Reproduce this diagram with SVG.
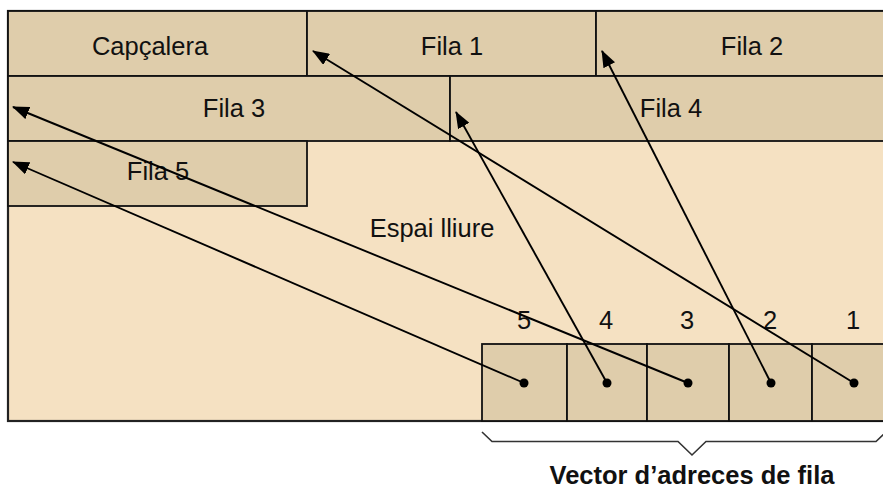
<svg xmlns="http://www.w3.org/2000/svg" width="883" height="490" viewBox="0 0 883 490">
<style>
.blk{fill:#DFCDAB;stroke:#111;stroke-width:1.8}
.t{font-family:"Liberation Sans",Arial,sans-serif;font-size:25.5px;fill:#111;text-anchor:middle}
.b{font-weight:bold}
.c{stroke:#000;stroke-width:1.9;fill:none}
</style>
<defs>
<marker id="ah" markerWidth="17" markerHeight="13" refX="16" refY="6.5" orient="auto" markerUnits="userSpaceOnUse">
<path d="M0,0 L17,6.5 L0,13 Z" fill="#000"/>
</marker>
</defs>
<rect x="0" y="0" width="883" height="490" fill="#fff"/>
<g id="area">
<rect x="8" y="11" width="885" height="410" fill="#F5E1C2" stroke="#222" stroke-width="2.2"/>
<text class="t" x="432" y="237">Espai lliure</text>
</g>
<g id="capcalera"><rect class="blk" x="8" y="11" width="299" height="65"/><text class="t" x="150" y="55">Capçalera</text></g>
<g id="fila1"><rect class="blk" x="307" y="11" width="289" height="65"/><text class="t" x="452" y="55">Fila 1</text></g>
<g id="fila2"><rect class="blk" x="596" y="11" width="297" height="65"/><text class="t" x="752" y="55">Fila 2</text></g>
<g id="fila3"><rect class="blk" x="8" y="76" width="442" height="65"/><text class="t" x="234" y="117">Fila 3</text></g>
<g id="fila4"><rect class="blk" x="450" y="76" width="443" height="65"/><text class="t" x="671" y="117">Fila 4</text></g>
<g id="fila5"><rect class="blk" x="8" y="141" width="299" height="65"/><text class="t" x="158" y="180">Fila 5</text></g>
<g id="vector">
<rect class="blk" x="482" y="344" width="85" height="77"/>
<rect class="blk" x="567" y="344" width="80" height="77"/>
<rect class="blk" x="647" y="344" width="82" height="77"/>
<rect class="blk" x="729" y="344" width="83" height="77"/>
<rect class="blk" x="812" y="344" width="81" height="77"/>
<text class="t" x="524" y="329">5</text>
<text class="t" x="606" y="329">4</text>
<text class="t" x="687" y="329">3</text>
<text class="t" x="770" y="329">2</text>
<text class="t" x="853" y="329">1</text>
<g fill="#000">
<circle cx="524" cy="383" r="4.5"/>
<circle cx="607" cy="383" r="4.5"/>
<circle cx="688" cy="383" r="4.5"/>
<circle cx="771" cy="383" r="4.5"/>
<circle cx="854" cy="383" r="4.5"/>
</g>
</g>
<g id="brace">
<path d="M482,432 L492,441.5 L678,441.5 L692,455 L706,441.5 L876,441.5 L885,433" fill="none" stroke="#333" stroke-width="1.6"/>
<text class="t b" x="692" y="484">Vector d’adreces de fila</text>
</g>
<g id="connectors">
<line class="c" x1="854" y1="383" x2="313" y2="51" marker-end="url(#ah)"/>
<line class="c" x1="771" y1="383" x2="602" y2="51" marker-end="url(#ah)"/>
<line class="c" x1="688" y1="383" x2="13" y2="107" marker-end="url(#ah)"/>
<line class="c" x1="607" y1="383" x2="456" y2="112" marker-end="url(#ah)"/>
<line class="c" x1="524" y1="383" x2="13" y2="162" marker-end="url(#ah)"/>
</g>
</svg>
